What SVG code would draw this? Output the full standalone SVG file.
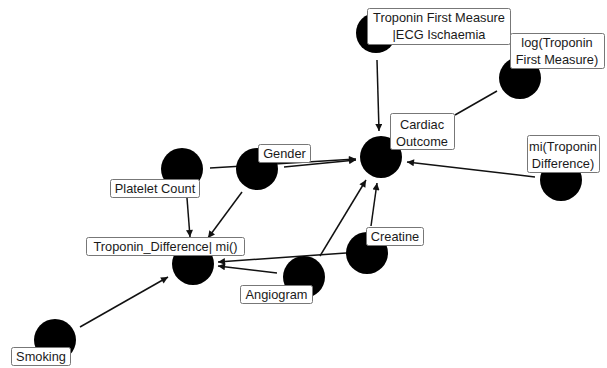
<svg xmlns="http://www.w3.org/2000/svg" width="607" height="368" viewBox="0 0 607 368">
<style>
.e{stroke:#111;stroke-width:1.5;fill:none}
.a{marker-end:url(#ah)}
.n{fill:#000}
.lb{fill:#fff;stroke:#777;stroke-width:1}
.t{font-family:"Liberation Sans",Arial,sans-serif;font-size:12.8px;fill:#1a1a1a;text-anchor:middle}
</style>
<defs>
<marker id="ah" viewBox="0 0 10 10" refX="10" refY="5" markerWidth="8" markerHeight="7" markerUnits="userSpaceOnUse" orient="auto">
<path d="M0,0L10,5L0,10z" fill="#111"/>
</marker>
</defs>
<g id="connectors">
<line class="e a" x1="377" y1="60" x2="379" y2="131"/>
<line class="e" x1="497" y1="91" x2="455" y2="115"/>
<line class="e a" x1="535" y1="177" x2="407" y2="162"/>
<line class="e a" x1="210" y1="168" x2="356" y2="159"/>
<line class="e a" x1="284" y1="167" x2="356" y2="160"/>
<line class="e a" x1="187" y1="198" x2="190" y2="237"/>
<line class="e a" x1="242" y1="192" x2="208" y2="238"/>
<line class="e a" x1="346" y1="253" x2="218" y2="262"/>
<line class="e a" x1="277" y1="273" x2="218" y2="266"/>
<line class="e a" x1="320" y1="256" x2="366" y2="180"/>
<line class="e a" x1="371" y1="226" x2="377" y2="183"/>
<line class="e a" x1="80" y1="327" x2="168" y2="277"/>
</g>
<g id="troponin-first">
<circle class="n" cx="376" cy="33" r="20"/>
<rect class="lb" x="367.5" y="8.5" width="143" height="36" rx="2"/>
<text class="t" x="439" y="22">Troponin First Measure</text>
<text class="t" x="439" y="39">|ECG Ischaemia</text>
</g>
<g id="log-troponin">
<circle class="n" cx="520" cy="78" r="21"/>
<rect class="lb" x="510.5" y="33.5" width="94" height="35" rx="2"/>
<text class="t" x="557" y="47">log(Troponin</text>
<text class="t" x="557" y="64">First Measure)</text>
</g>
<g id="cardiac-outcome">
<circle class="n" cx="381" cy="157" r="21"/>
<rect class="lb" x="390.5" y="113.5" width="64" height="36" rx="2"/>
<text class="t" x="422" y="129">Cardiac</text>
<text class="t" x="422" y="146">Outcome</text>
</g>
<g id="mi-troponin-difference">
<circle class="n" cx="561" cy="180" r="21"/>
<rect class="lb" x="527.5" y="135.5" width="72" height="37" rx="2"/>
<text class="t" x="563" y="151">mi(Troponin</text>
<text class="t" x="563" y="168">Difference)</text>
</g>
<g id="platelet-count">
<circle class="n" cx="182" cy="169" r="21"/>
<rect class="lb" x="110.5" y="179.5" width="89" height="18" rx="2"/>
<text class="t" x="155" y="193">Platelet Count</text>
</g>
<g id="gender">
<circle class="n" cx="257" cy="169" r="21"/>
<rect class="lb" x="258.5" y="144.5" width="52" height="18" rx="2"/>
<text class="t" x="284.5" y="158">Gender</text>
</g>
<g id="troponin-difference">
<circle class="n" cx="193" cy="264" r="21"/>
<rect class="lb" x="86.5" y="237.5" width="158" height="18" rx="2"/>
<text class="t" x="165.5" y="251">Troponin_Difference| mi()</text>
</g>
<g id="angiogram">
<circle class="n" cx="304" cy="277" r="21"/>
<rect class="lb" x="240.5" y="285.5" width="72" height="18" rx="2"/>
<text class="t" x="276.5" y="299">Angiogram</text>
</g>
<g id="creatine">
<circle class="n" cx="367" cy="253" r="21"/>
<rect class="lb" x="366.5" y="227.5" width="57" height="18" rx="2"/>
<text class="t" x="395" y="241">Creatine</text>
</g>
<g id="smoking">
<circle class="n" cx="55" cy="340" r="21"/>
<rect class="lb" x="11.5" y="347.5" width="59" height="18" rx="2"/>
<text class="t" x="41" y="361">Smoking</text>
</g>
</svg>
